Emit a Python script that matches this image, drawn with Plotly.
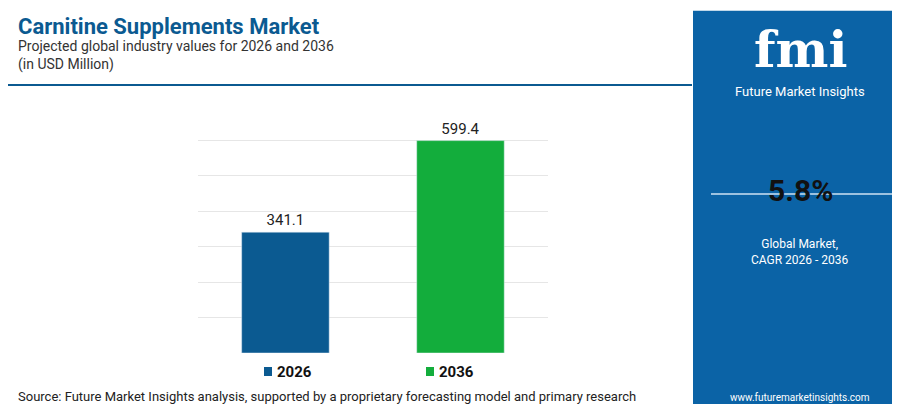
import plotly.graph_objects as go

years = ["2026", "2036"]
values = [341.1, 599.4]
colors = ["#0b5a91", "#13ad3c"]
cagr = "5.8%"

fig = go.Figure()
fig.add_trace(go.Bar(x=years, y=values, marker_color=colors, width=0.5,
                     text=[f"{v:.1f}" for v in values], textposition="outside",
                     textfont=dict(size=15, color="#222", family="Roboto"),
                     cliponaxis=False, showlegend=False))
fig.update_layout(
    width=900, height=404, margin=dict(l=0, r=0, t=0, b=0),
    paper_bgcolor="white", plot_bgcolor="white",
    xaxis=dict(domain=[0.211, 0.6], visible=False),
    yaxis=dict(domain=[0.146, 0.760], range=[0, 700], dtick=100, showticklabels=False,
               gridcolor="#e6e6e6", zeroline=False),
    font=dict(family="Roboto"),
)
shapes = [
    dict(type="line", xref="paper", yref="paper", x0=0, x1=0.76, y0=1-77/404, y1=1-77/404,
         line=dict(color="#0b5a91", width=2)),
    dict(type="rect", xref="paper", yref="paper", x0=685/900, x1=1, y0=0.01, y1=0.993,
         fillcolor="#0b63a6", line_width=0, layer="above"),
    dict(type="line", xref="paper", yref="paper", x0=703/900, x1=885/900, y0=1-186/404, y1=1-186/404,
         line=dict(color="#cfe2f3", width=1.5)),
    dict(type="rect", xref="paper", yref="paper", x0=0, x1=230/900, y0=0, y1=5/404,
         fillcolor="#8bc34a", line_width=0),
    dict(type="rect", xref="paper", yref="paper", x0=230/900, x1=455/900, y0=0, y1=5/404,
         fillcolor="#e8703a", line_width=0),
    dict(type="rect", xref="paper", yref="paper", x0=455/900, x1=685/900, y0=0, y1=5/404,
         fillcolor="#7b2c8c", line_width=0),
    dict(type="rect", xref="paper", yref="paper", x0=256/900, x1=264/900, y0=1-368/404, y1=1-359/404,
         fillcolor=colors[0], line_width=0),
    dict(type="rect", xref="paper", yref="paper", x0=418/900, x1=426/900, y0=1-368/404, y1=1-359/404,
         fillcolor=colors[1], line_width=0),
]
fig.update_layout(shapes=shapes)
ann = [
    dict(x=8/900, y=1-18/404, text="<b>Carnitine Supplements Market</b>", font=dict(size=22, color="#0b5a91")),
    dict(x=8/900, y=1-38/404, text="Projected global industry values for 2026 and 2036", font=dict(size=14, color="#333")),
    dict(x=8/900, y=1-56/404, text="(in USD Million)", font=dict(size=14, color="#333")),
    dict(x=267/900, y=1-364/404, text="<b>2026</b>", font=dict(size=15, color="#111")),
    dict(x=429/900, y=1-364/404, text="<b>2036</b>", font=dict(size=15, color="#111")),
    dict(x=8/900, y=1-388/404, text="Source: Future Market Insights analysis, supported by a proprietary forecasting model and primary research",
         font=dict(size=13, color="#222")),
    dict(x=792/900, y=1-42/404, xanchor="center", text="<b>fmi</b>", font=dict(size=50, color="white", family="DejaVu Serif")),
    dict(x=792/900, y=1-84/404, xanchor="center", text="Future Market Insights", font=dict(size=13, color="white")),
    dict(x=792/900, y=1-183/404, xanchor="center", text="<b>" + cagr + "</b>", font=dict(size=30, color="#111")),
    dict(x=792/900, y=1-244/404, xanchor="center", text="Global Market,<br>CAGR 2026 - 2036", font=dict(size=12, color="white")),
    dict(x=792/900, y=1-389/404, xanchor="center", text="www.futuremarketinsights.com", font=dict(size=10, color="white")),
]
for a in ann:
    a.setdefault("xanchor", "left")
    fig.add_annotation(xref="paper", yref="paper", yanchor="middle", showarrow=False, **a)
fig.write_html("out.html")
